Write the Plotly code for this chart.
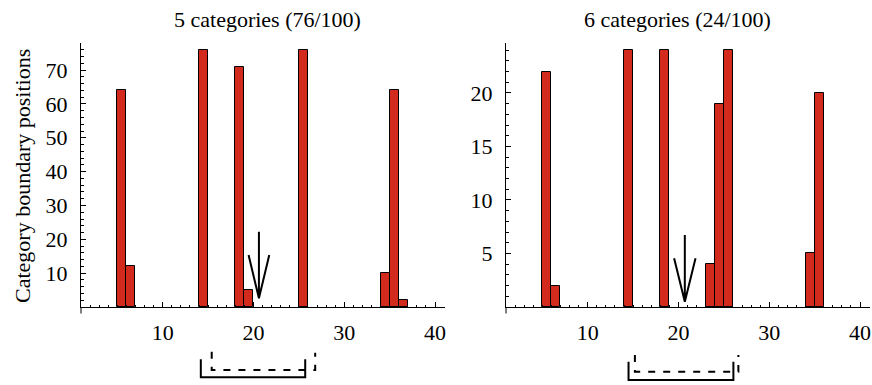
import plotly.graph_objects as go

# ---------------- data ----------------
left_bins = [5, 6, 14, 18, 19, 25, 34, 35, 36]
left_counts = [64, 12, 76, 71, 5, 76, 10, 64, 2]
right_bins = [5, 6, 14, 18, 23, 24, 25, 34, 35]
right_counts = [22, 2, 24, 24, 4, 19, 24, 5, 20]
x_tick_vals = [10, 20, 30, 40]
left_y_ticks = [10, 20, 30, 40, 50, 60, 70]
right_y_ticks = [5, 10, 15, 20]
panel_titles = ["5 categories (76/100)", "6 categories (24/100)"]
y_title = "Category boundary positions"
arrow_x = [20.6, 20.7]
solid_span = [[14.2, 25.7], [14.5, 26.05]]
dashed_span = [[15.4, 26.8], [15.2, 26.6]]

# ---------------- style ----------------
W, H = 872, 385
TOP, BOT = 43, 307
FONT = "Liberation Serif"
RED = "rgb(210,43,30)"


def py(p):
    """pixel row -> paper y"""
    return (BOT - p) / (BOT - TOP)


def px(p):
    return p / W


fig = go.Figure()
for bins, counts, xa, ya in [(left_bins, left_counts, "x", "y"),
                             (right_bins, right_counts, "x2", "y2")]:
    fig.add_trace(go.Bar(x=bins, y=counts, width=1, offset=0,
                         xaxis=xa, yaxis=ya, showlegend=False,
                         marker=dict(color=RED, line=dict(color="black", width=1)),
                         hoverinfo="skip"))

common = dict(showline=True, linecolor="black", linewidth=1,
              ticks="inside", ticklen=5, tickwidth=1, tickcolor="black",
              showgrid=False, zeroline=False, fixedrange=True,
              tickfont=dict(family=FONT, size=22, color="black"))

xminor = dict(dtick=1, tick0=0, ticks="inside", ticklen=2, tickwidth=1,
              tickcolor="black", showgrid=False)

fig.update_layout(
    width=W, height=H,
    margin=dict(l=0, r=0, t=TOP, b=H - BOT, pad=0, autoexpand=False),
    paper_bgcolor="white", plot_bgcolor="white",
    bargap=0,
    xaxis=dict(domain=[px(81), px(445)], range=[1, 41.1], anchor="y",
               tickvals=x_tick_vals, minor=xminor, ticklabelstandoff=6, **common),
    yaxis=dict(domain=[0, 1], range=[0, 78], anchor="x",
               tickvals=left_y_ticks, ticklabelstandoff=8,
               minor=dict(dtick=2, tick0=0, ticks="inside", ticklen=2.5,
                          tickwidth=1, tickcolor="black", showgrid=False),
               **common),
    xaxis2=dict(domain=[px(506), px(870)], range=[1, 41.1], anchor="y2",
                tickvals=x_tick_vals, minor=xminor, ticklabelstandoff=6, **common),
    yaxis2=dict(domain=[0, 1], range=[0, 24.67], anchor="x2",
                tickvals=right_y_ticks, ticklabelstandoff=8,
                minor=dict(dtick=1, tick0=0, ticks="inside", ticklen=2.5,
                           tickwidth=1, tickcolor="black", showgrid=False),
                **common),
)

shapes = []
# y-axis extensions below the x axis
for xd in ["x domain", "x2 domain"]:
    shapes.append(dict(type="line", xref=xd, yref="paper", x0=0, x1=0,
                       y0=0, y1=py(313.5), line=dict(color="black", width=1)))

# arrows (open V heads)
arrow_geom = [(py(231.7), py(298.3), py(255), 1.14, "x"),
              (py(235), py(301.7), py(258.3), 1.18, "x2")]
for ax, (ytop, ytip, yv, hw, xr) in zip(arrow_x, arrow_geom):
    path = (f"M{ax},{ytop} L{ax},{ytip} "
            f"M{ax - hw},{yv} L{ax},{ytip} L{ax + hw},{yv}")
    shapes.append(dict(type="path", xref=xr, yref="paper", path=path,
                       line=dict(color="black", width=2)))

# brackets
bracket_geom = [
    ("x", (py(359.3), py(377.3)), (py(351.7), py(370), py(352.7))),
    ("x2", (py(361.7), py(380)), (py(355), py(371.7), py(355))),
]
for (xr, (s_top, s_bot), (d_ltop, d_h, d_rtop)), sspan, dspan in zip(
        bracket_geom, solid_span, dashed_span):
    a, b = sspan
    shapes.append(dict(type="path", xref=xr, yref="paper",
                       path=f"M{a},{s_top} L{a},{s_bot} L{b},{s_bot} L{b},{s_top}",
                       line=dict(color="black", width=2)))
    a, b = dspan
    shapes.append(dict(type="path", xref=xr, yref="paper",
                       path=f"M{a},{d_ltop} L{a},{d_h} L{b},{d_h} L{b},{d_rtop}",
                       line=dict(color="black", width=2, dash="7px,8px")))
fig.update_layout(shapes=shapes)

annotations = []
for t, cx in zip(panel_titles, [267, 677]):
    annotations.append(dict(text=t, xref="paper", yref="paper",
                            x=px(cx), y=py(20), xanchor="center", yanchor="middle",
                            showarrow=False,
                            font=dict(family=FONT, size=22, color="black")))
annotations.append(dict(text=y_title, xref="paper", yref="paper",
                        x=px(22), y=py(176), xanchor="center", yanchor="middle",
                        textangle=-90, showarrow=False,
                        font=dict(family=FONT, size=22, color="black")))
fig.update_layout(annotations=annotations)

fig.write_html("out.html")
